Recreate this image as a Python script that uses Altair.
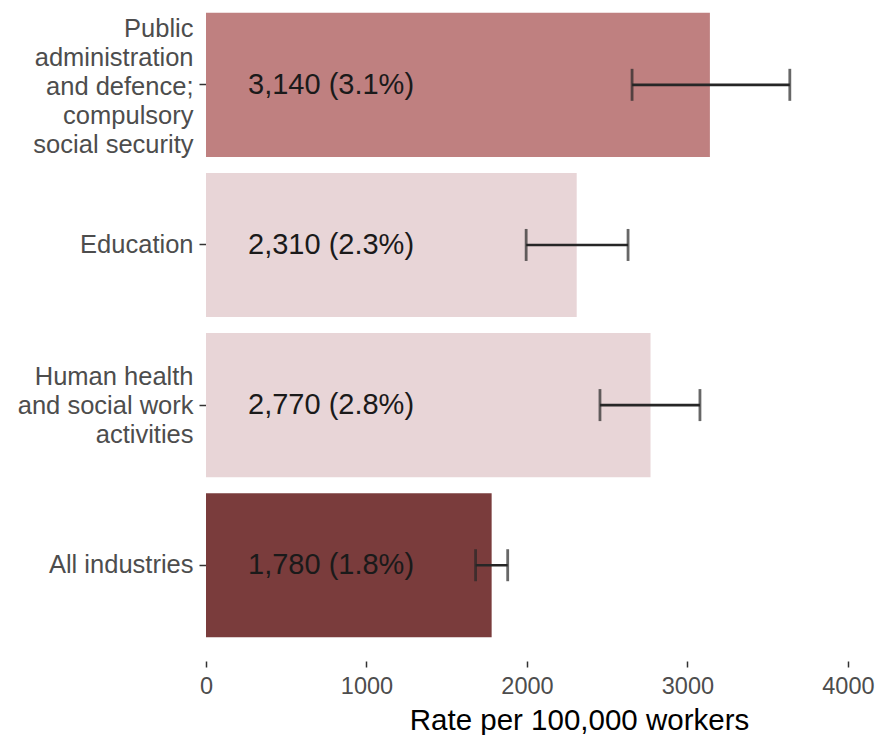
import altair as alt
import pandas as pd

# Industry groups (top to bottom), rates per 100,000 workers and 95% intervals
industries = [
    "Public\nadministration\nand defence;\ncompulsory\nsocial security",
    "Education",
    "Human health\nand social work\nactivities",
    "All industries",
]
rates = [3140, 2310, 2770, 1780]
lower = [2655, 1995, 2455, 1680]
upper = [3638, 2630, 3078, 1880]
labels = ["3,140 (3.1%)", "2,310 (2.3%)", "2,770 (2.8%)", "1,780 (1.8%)"]
bar_colors = ["#BF8080", "#E8D5D7", "#E8D5D7", "#7A3C3C"]

df = pd.DataFrame({
    "industry": industries,
    "rate": rates,
    "lo": lower,
    "hi": upper,
    "label": labels,
})

FONT = "Liberation Sans, Arial, sans-serif"
LINE_H = 29

# multi-line tick labels are drawn from their first line, so shift each block
# up by half its extra height to centre it on the tick
label_offset = {
    "condition": [
        {"test": "indexof(datum.value, 'Public') == 0", "value": -2 * LINE_H + 2},
        {"test": "indexof(datum.value, 'Human') == 0", "value": -1 * LINE_H + 1},
    ],
    "value": 0,
}

y_enc = alt.Y(
    "industry:N",
    sort=industries,
    title=None,
    scale=alt.Scale(paddingInner=0.1, paddingOuter=0.114, align=0.35),
    axis=alt.Axis(
        labelExpr="split(datum.label, '\\n')",
        labelFontSize=25.5,
        labelColor="#4D4D4D",
        labelFont=FONT,
        labelLineHeight=LINE_H,
        labelOffset=label_offset,
        labelPadding=6,
        tickSize=7,
        tickColor="#333333",
        tickWidth=1.5,
        domain=False,
        grid=False,
    ),
)

x_enc = alt.X(
    "rate:Q",
    scale=alt.Scale(domain=[0, 4200], nice=False, zero=True),
    axis=alt.Axis(
        values=[0, 1000, 2000, 3000, 4000],
        format="d",
        title="Rate per 100,000 workers",
        titleFont=FONT,
        titleFontSize=29.5,
        titleFontWeight="normal",
        titleColor="#000000",
        titleAnchor="start",
        titleAlign="center",
        titleX=373,
        titleY=68,
        titleBaseline="alphabetic",
        labelFontSize=23.5,
        labelColor="#4D4D4D",
        labelFont=FONT,
        labelBaseline="alphabetic",
        labelFlush=False,
        labelPadding=26,
        tickSize=6,
        tickColor="#333333",
        tickWidth=1.5,
        domain=False,
        grid=False,
    ),
)

bars = alt.Chart(df).mark_bar().encode(
    x=x_enc,
    y=y_enc,
    color=alt.Color(
        "industry:N",
        scale=alt.Scale(domain=industries, range=bar_colors),
        legend=None,
    ),
)

ERR_COLOR = "#262626"

whisker = alt.Chart(df).mark_rule(color=ERR_COLOR, strokeWidth=2.6).encode(
    x="lo:Q",
    x2="hi:Q",
    y=alt.Y("industry:N", sort=industries),
)

cap_lo = alt.Chart(df).mark_tick(color=ERR_COLOR, thickness=2.8, size=32).encode(
    x="lo:Q",
    y=alt.Y("industry:N", sort=industries),
)

cap_hi = alt.Chart(df).mark_tick(color=ERR_COLOR, thickness=2.8, size=32).encode(
    x="hi:Q",
    y=alt.Y("industry:N", sort=industries),
)

text = alt.Chart(df).mark_text(
    align="left",
    baseline="middle",
    fontSize=29,
    font=FONT,
    color="#1A1A1A",
).encode(
    x=alt.value(42),
    y=alt.Y("industry:N", sort=industries),
    text="label:N",
)

chart = (
    alt.layer(bars, whisker, cap_lo, cap_hi, text)
    .properties(
        width=674,
        height=661,
        autosize=alt.AutoSizeParams(type="none"),
        padding={"left": 206, "top": 0, "right": 0, "bottom": 74},
        background="white",
    )
    .configure_view(stroke=None)
)

chart.save("out.html", embed_options={"renderer": "svg", "actions": False})
